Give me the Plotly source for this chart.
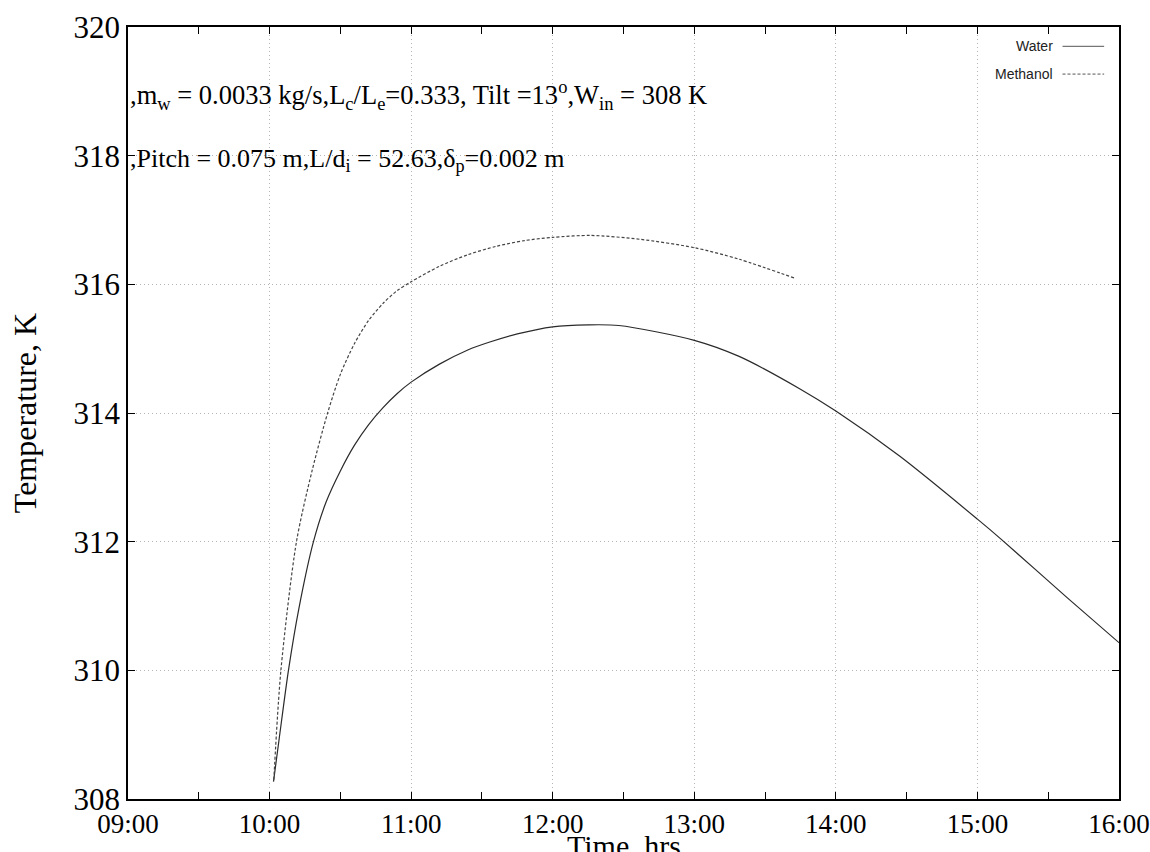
import plotly.graph_objects as go

DAY = "2024-01-01 "

# Water (solid) — time of day, outlet temperature (K)
water_time = ["10:01:40", "10:04:05", "10:08:00", "10:12:25", "10:18:36", "10:24:00",
              "10:30:00", "10:36:00", "10:42:00", "10:48:00", "10:54:00", "11:00:00",
              "11:12:00", "11:24:00", "11:33:00", "11:45:00", "12:00:00", "12:15:00",
              "12:28:00", "13:00:00", "13:19:00", "13:45:00", "14:00:00", "14:27:00",
              "15:00:00", "15:10:00", "15:38:00", "16:00:00"]
water_temp = [308.27, 308.94, 310.00, 310.96, 312.00, 312.62,
              313.10, 313.50, 313.82, 314.08, 314.30, 314.48,
              314.76, 314.98, 315.10, 315.23, 315.34, 315.37,
              315.36, 315.13, 314.88, 314.37, 314.03, 313.33,
              312.35, 312.04, 311.13, 310.43]

# Methanol (dotted)
meth_time = ["10:01:48", "10:04:48", "10:11:24", "10:18:00", "10:24:36", "10:30:00",
             "10:36:00", "10:42:00", "10:48:00", "10:54:00", "11:00:00", "11:12:00",
             "11:24:00", "11:36:00", "11:48:00", "12:00:00", "12:16:00", "12:37:00",
             "13:00:00", "13:19:00", "13:43:00"]
meth_temp = [308.30, 310.00, 312.00, 313.10, 314.00, 314.60,
             315.08, 315.44, 315.70, 315.90, 316.04, 316.28,
             316.46, 316.59, 316.68, 316.73, 316.76, 316.70,
             316.57, 316.39, 316.09]

y_ticks = [308, 310, 312, 314, 316, 318, 320]

label1 = (",m<sub>w</sub> = 0.0033 kg/s,L<sub>c</sub>/L<sub>e</sub>=0.333, Tilt =13<sup>o</sup>,"
          "W<sub>in</sub> = 308 K")
label2 = ",Pitch = 0.075 m,L/d<sub>i</sub> = 52.63,δ<sub>p</sub>=0.002 m"
x_title = "Time, hrs"

SERIF = "Liberation Serif"
SANS = "Liberation Sans"
GRID = "#b4b4b4"

fig = go.Figure()
fig.add_trace(go.Scatter(
    x=[DAY + t for t in water_time], y=water_temp, mode="lines", name="Water",
    line=dict(color="#2a2a2a", width=1.2, shape="spline", smoothing=0.8),
    showlegend=False))
fig.add_trace(go.Scatter(
    x=[DAY + t for t in meth_time], y=meth_temp, mode="lines", name="Methanol",
    line=dict(color="#444444", width=1.2, dash="3px,2px", shape="spline", smoothing=0.8),
    showlegend=False))

fig.update_layout(
    width=1150, height=852,
    margin=dict(l=128, r=31, t=27, b=53),
    paper_bgcolor="white", plot_bgcolor="white",
    font=dict(family=SERIF, color="black"),
)

fig.update_xaxes(
    type="date",
    range=[DAY + "09:00", DAY + "16:00"],
    tick0=DAY + "09:00", dtick=3600000, tickformat="%H:%M",
    ticks="inside", ticklen=7, tickwidth=1, tickcolor="black",
    minor=dict(dtick=1800000, ticks="inside", ticklen=7, tickcolor="black", showgrid=False),
    showline=True, linecolor="black", linewidth=1.5, mirror="ticks",
    showgrid=True, gridcolor=GRID, griddash="1px,3px", gridwidth=1,
    tickfont=dict(family=SERIF, size=27, color="black"),
    automargin=False, zeroline=False,
)
fig.update_yaxes(
    range=[308, 320], tickvals=y_ticks, ticktext=[str(v) for v in y_ticks],
    ticks="inside", ticklen=7, tickwidth=1, tickcolor="black",
    showline=True, linecolor="black", linewidth=1.5, mirror="ticks",
    showgrid=True, gridcolor=GRID, griddash="1px,3px", gridwidth=1,
    tickfont=dict(family=SERIF, size=31, color="black"),
    title=dict(text="Temperature, K", font=dict(family=SERIF, size=32, color="black"), standoff=27),
    automargin=False, zeroline=False,
)

# x-axis title (partly cut by the bottom edge, as in the original)
fig.add_annotation(x=0.5, y=-0.036, xref="paper", yref="paper", text=x_title,
                   showarrow=False, xanchor="center", yanchor="top",
                   font=dict(family=SERIF, size=30, color="black"))

# parameter labels
fig.add_annotation(x=DAY + "09:00", y=318.94, xref="x", yref="y", text=label1,
                   showarrow=False, xanchor="left", yanchor="middle",
                   font=dict(family=SERIF, size=26.5, color="black"))
fig.add_annotation(x=DAY + "09:00", y=317.93, xref="x", yref="y", text=label2,
                   showarrow=False, xanchor="left", yanchor="middle",
                   font=dict(family=SERIF, size=26, color="black"))

# legend (text followed by line sample, gnuplot style)
legend_items = [("Water", "solid", 0.975), ("Methanol", "3px,2px", 0.939)]
for name, dash, ypos in legend_items:
    fig.add_annotation(x=0.935, y=ypos, xref="paper", yref="paper", text=name,
                       showarrow=False, xanchor="right", yanchor="middle",
                       font=dict(family=SANS, size=14, color="#222222"))
    fig.add_shape(type="line", xref="paper", yref="paper",
                  x0=0.943, x1=0.985, y0=ypos, y1=ypos,
                  line=dict(color="#555555", width=1, dash=dash))

fig.write_html("out.html")
